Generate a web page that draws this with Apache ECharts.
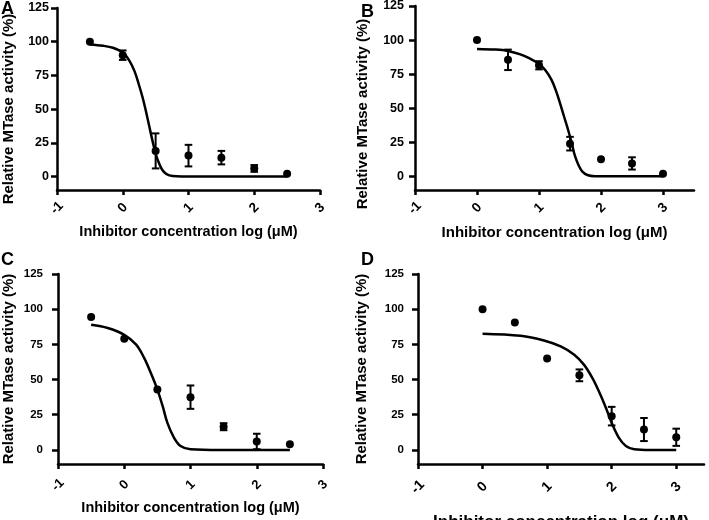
<!DOCTYPE html>
<html>
<head>
<meta charset="utf-8">
<script src="https://cdn.jsdelivr.net/npm/echarts@6/dist/echarts.min.js"></script>
<style>
html,body{margin:0;padding:0;background:#fff;}
#chart{width:709px;height:520px;}
</style>
</head>
<body>
<div id="chart"></div>
<script>
// ---------- data ----------
const panelLetters = ['A', 'B', 'C', 'D'];
const xTickValues = [-1, 0, 1, 2, 3];
const yTickValues = [0, 25, 50, 75, 100, 125];
const xAxisTitle = 'Inhibitor concentration log (\u03bcM)';
const yAxisTitle = 'Relative MTase activity (%)';

// measured points (log conc, % activity, SEM)
const A_x = [-0.5, 0, 0.5, 1, 1.5, 2, 2.5];
const A_y = [100, 90, 19, 15.5, 14, 6, 2];
const A_err = [0, 3.5, 13, 8, 5, 2.5, 0];

const B_x = [0, 0.5, 1, 1.5, 2, 2.5, 3];
const B_y = [100, 85.5, 81.5, 24, 12.5, 9.5, 2];
const B_err = [0, 7.5, 3, 5, 0, 4.5, 0];

const C_x = [-0.5, 0, 0.5, 1, 1.5, 2, 2.5];
const C_y = [94.5, 79, 43, 37.5, 16.5, 6, 4];
const C_err = [0, 0, 0, 8.3, 2.5, 5.5, 0];

const D_x = [0, 0.5, 1, 1.5, 2, 2.5, 3];
const D_y = [100, 90.5, 65, 53, 24, 14.5, 9];
const D_err = [0, 0, 0, 4.2, 6.6, 8.2, 6.1];

// fitted curves
const A_curve_x = [-0.5, -0.3, -0.15, 0, 0.1, 0.18, 0.24, 0.3, 0.35, 0.4, 0.45, 0.5, 0.55, 0.6, 0.66, 0.76, 0.9, 2.5];
const A_curve_y = [98, 97, 95.5, 92, 86, 78, 69, 59, 49, 38, 27, 17, 10, 5, 2, 0.3, 0, 0];

const B_curve_x = [0, 0.3, 0.5, 0.7, 0.85, 1.0, 1.1, 1.2, 1.28, 1.35, 1.41, 1.47, 1.53, 1.58, 1.64, 1.7, 1.78, 1.9, 2.1, 3];
const B_curve_y = [93.5, 93, 92, 89.5, 86.5, 82.5, 78, 71, 62, 52, 43, 34, 24, 15, 8, 3.5, 1, 0.1, 0, 0];

const C_curve_x = [-0.5, -0.25, 0, 0.18, 0.3, 0.4, 0.5, 0.58, 0.65, 0.75, 0.85, 1.0, 1.45, 2.5];
const C_curve_y = [88.9, 86.6, 81.8, 74.8, 65.4, 54.8, 42.9, 31.1, 19.4, 8.8, 2.8, 0.5, 0, 0];

const D_curve_x = [0, 0.59, 0.95, 1.21, 1.42, 1.57, 1.7, 1.8, 1.91, 2.01, 2.11, 2.22, 2.35, 2.6, 3];
const D_curve_y = [82.6, 81.1, 77.8, 73.6, 67.7, 60.6, 51.2, 41.8, 30, 18.2, 8.8, 2.8, 0.5, 0, 0];

const xMaxes = [3, 3.5, 3, 3.43];
const yMin = -10, yMax = 125;

// ---------- layout / style ----------
const FONT = '"Liberation Sans", Arial, Helvetica, sans-serif';
const layouts = [
  {left: 57, top: 8, width: 263, height: 182, yLab: 12.5, yMargin: 8, xLab: 13.5, xMargin: 18, nameGapX: 34, nameSizeX: 14.5, nameGapY: 41, yShift: 20, letter: [1, 0]},
  {left: 415, top: 6, width: 279, height: 184, yLab: 12.5, yMargin: 11, xLab: 13.5, xMargin: 18, nameGapX: 35, nameSizeX: 15, nameGapY: 45, yShift: 32, letter: [361, 3]},
  {left: 58, top: 274, width: 265, height: 190, yLab: 11.5, yMargin: 15, xLab: 13, xMargin: 21, nameGapX: 36, nameSizeX: 14.5, nameGapY: 42, yShift: 0, letter: [1, 251]},
  {left: 418, top: 274, width: 286, height: 190, yLab: 11.5, yMargin: 14, xLab: 14, xMargin: 23, nameGapX: 50, nameSizeX: 17, nameGapY: 49, yShift: 0, letter: [361, 251]}
];

const pts = [[A_x, A_y, A_err], [B_x, B_y, B_err], [C_x, C_y, C_err], [D_x, D_y, D_err]];
const curves = [[A_curve_x, A_curve_y], [B_curve_x, B_curve_y], [C_curve_x, C_curve_y], [D_curve_x, D_curve_y]];

const grids = [], xAxes = [], yAxes = [], series = [], graphics = [];
layouts.forEach((L, i) => {
  grids.push({left: L.left, top: L.top, width: L.width, height: L.height, containLabel: false, outerBoundsMode: 'none'});
  xAxes.push({
    gridIndex: i, type: 'value', min: -1, max: xMaxes[i], position: 'bottom',
    axisLine: {show: true, onZero: false, lineStyle: {color: '#000', width: 2.5}},
    axisTick: {show: true, customValues: xTickValues, length: 5, lineStyle: {color: '#000', width: 2.5}},
    axisLabel: {show: true, customValues: xTickValues, rotate: 45, align: 'center', verticalAlign: 'middle',
      margin: L.xMargin, color: '#000', fontWeight: 'bold', fontSize: L.xLab, fontFamily: FONT},
    splitLine: {show: false},
    name: xAxisTitle, nameLocation: 'middle', nameGap: L.nameGapX,
    nameTextStyle: {color: '#000', fontWeight: 'bold', fontSize: L.nameSizeX, fontFamily: FONT}
  });
  yAxes.push({
    gridIndex: i, type: 'value', min: yMin, max: yMax, position: 'left',
    axisLine: {show: true, onZero: false, lineStyle: {color: '#000', width: 2.5}},
    axisTick: {show: true, customValues: yTickValues, length: 6, lineStyle: {color: '#000', width: 2.5}},
    axisLabel: {show: true, customValues: yTickValues, margin: L.yMargin, color: '#000', fontWeight: 'bold', fontSize: L.yLab, fontFamily: FONT},
    splitLine: {show: false},
    name: yAxisTitle, nameLocation: 'middle', nameGap: L.nameGapY,
    nameTextStyle: {color: '#000', fontWeight: 'bold', fontSize: 15, fontFamily: FONT, padding: [0, L.yShift, 0, 0]}
  });
  const [cx, cy] = curves[i];
  series.push({
    type: 'line', xAxisIndex: i, yAxisIndex: i, data: cx.map((x, j) => [x, cy[j]]),
    showSymbol: false, symbol: 'none', smooth: 0.35,
    lineStyle: {color: '#000', width: 2.5, join: 'round'}, silent: true, z: 2
  });
  const [px, py, pe] = pts[i];
  series.push({
    type: 'custom', xAxisIndex: i, yAxisIndex: i,
    data: px.map((x, j) => [x, py[j] - pe[j], py[j] + pe[j]]).filter((d, j) => pe[j] > 0),
    encode: {x: 0, y: [1, 2]},
    renderItem: function (params, api) {
      const lo = api.coord([api.value(0), api.value(1)]);
      const hi = api.coord([api.value(0), api.value(2)]);
      const w = 3.8;
      const st = {stroke: '#000', lineWidth: 2};
      return {type: 'group', children: [
        {type: 'line', shape: {x1: lo[0], y1: lo[1], x2: hi[0], y2: hi[1]}, style: st},
        {type: 'line', shape: {x1: lo[0] - w, y1: lo[1], x2: lo[0] + w, y2: lo[1]}, style: st},
        {type: 'line', shape: {x1: hi[0] - w, y1: hi[1], x2: hi[0] + w, y2: hi[1]}, style: st}
      ]};
    },
    silent: true, z: 3
  });
  series.push({
    type: 'scatter', xAxisIndex: i, yAxisIndex: i, data: px.map((x, j) => [x, py[j]]),
    symbol: 'circle', symbolSize: 8, itemStyle: {color: '#000', opacity: 1}, silent: true, z: 4
  });
  graphics.push({
    type: 'text', left: L.letter[0], top: L.letter[1],
    style: {text: panelLetters[i], fill: '#000', font: 'bold 18px ' + FONT}
  });
});

const chart = echarts.init(document.getElementById('chart'), null, {renderer: 'canvas'});
chart.setOption({
  backgroundColor: '#fff',
  animation: false,
  grid: grids, xAxis: xAxes, yAxis: yAxes, series: series, graphic: graphics
});
</script>
</body>
</html>
